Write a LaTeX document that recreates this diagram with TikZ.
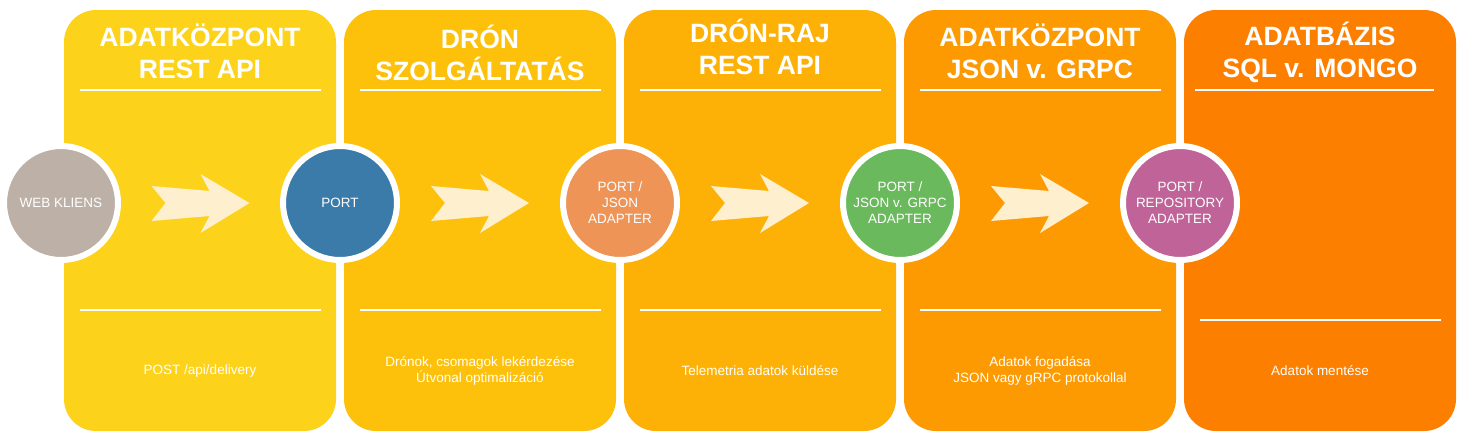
\documentclass[tikz,border=0pt]{standalone}
\usepackage{fontspec}
\setmainfont{Liberation Sans}
\usetikzlibrary{calc}

\definecolor{panelA}{HTML}{FDD21B}
\definecolor{panelB}{HTML}{FDC10B}
\definecolor{panelC}{HTML}{FDB006}
\definecolor{panelD}{HTML}{FD9A02}
\definecolor{panelE}{HTML}{FD7F00}
\definecolor{webgrey}{HTML}{BDB1A7}
\definecolor{portblue}{HTML}{3B7BA9}
\definecolor{jsonorange}{HTML}{EE9457}
\definecolor{grpcgreen}{HTML}{6AB95D}
\definecolor{repopurple}{HTML}{BF6398}
\definecolor{cream}{HTML}{FEF0CF}

\tikzset{
  panel/.style={rounded corners=32pt},
  hline/.style={draw=white, line width=1.5pt},
  title/.style={text=white, align=center, font=\fontsize{26.5}{32}\selectfont\bfseries},
  caption/.style={text=white, align=center, font=\fontsize{13.5}{16}\selectfont},
  port/.style={circle, draw=white, line width=6pt, minimum size=114pt, inner sep=0pt,
    text=white, align=center, font=\fontsize{13.5}{16}\selectfont},
  chevron/.style={fill=cream}
}

\begin{document}
\begin{tikzpicture}[x=1pt, y=-1pt]
\useasboundingbox (0,0) rectangle (1464,440);

% panels
\fill[panel, fill=panelA] (64,10) rectangle (336,431);
\fill[panel, fill=panelB] (344,10) rectangle (616,431);
\fill[panel, fill=panelC] (624,10) rectangle (896,431);
\fill[panel, fill=panelD] (904,10) rectangle (1176,431);
\fill[panel, fill=panelE] (1184,10) rectangle (1456,431);

% separator lines
\draw[hline] (80,90) -- (321,90);
\draw[hline] (80,310) -- (321,310);
\draw[hline] (360,90) -- (601,90);
\draw[hline] (360,310) -- (601,310);
\draw[hline] (640,90) -- (881,90);
\draw[hline] (640,310) -- (881,310);
\draw[hline] (920,90) -- (1161,90);
\draw[hline] (920,310) -- (1161,310);
\draw[hline] (1195,90) -- (1434,90);
\draw[hline] (1200,320) -- (1441,320);

% titles
\node[title] (t1) at (200,51.5) {ADATKÖZPONT\\REST API};
\node[title] (t2) at (480,53) {DRÓN\\SZOLGÁLTATÁS};
\node[title] (t3) at (760,46.5) {DRÓN-RAJ\\REST API};
\node[title] (t4) at (1040,51.5) {ADATKÖZPONT\\JSON v. GRPC};
\node[title] (t5) at (1320,52) {ADATBÁZIS\\SQL v. MONGO};

% captions
\node[caption] (c1) at (200,371) {POST /api/delivery};
\node[caption] (c2) at (480,371) {Drónok, csomagok lekérdezése\\Útvonal optimalizáció};
\node[caption] (c3) at (760,371) {Telemetria adatok küldése};
\node[caption] (c4) at (1040,371) {Adatok fogadása\\JSON vagy gRPC protokollal};
\node[caption] (c5) at (1320,371) {Adatok mentése};

% circles
\node[port, fill=webgrey] (web) at (61,203) {WEB KLIENS};
\node[port, fill=portblue] (port) at (340,203) {PORT};
\node[port, fill=jsonorange] (json) at (620,203) {PORT /\\JSON\\ADAPTER};
\node[port, fill=grpcgreen] (grpc) at (900,203) {PORT /\\JSON v. GRPC\\ADAPTER};
\node[port, fill=repopurple] (repo) at (1180,203) {PORT /\\REPOSITORY\\ADAPTER};

% chevrons between the circles
\foreach \a/\b in {web/port, port/json, json/grpc, grpc/repo}
  \fill[chevron, shift={($(\a)!0.5!(\b)$)}] (-49,-17) -- (9,-12) -- (0,-29) -- (49,0)
    -- (0,30) -- (9,13) -- (-49,18) -- (-35,0) -- cycle;
\end{tikzpicture}
\end{document}
